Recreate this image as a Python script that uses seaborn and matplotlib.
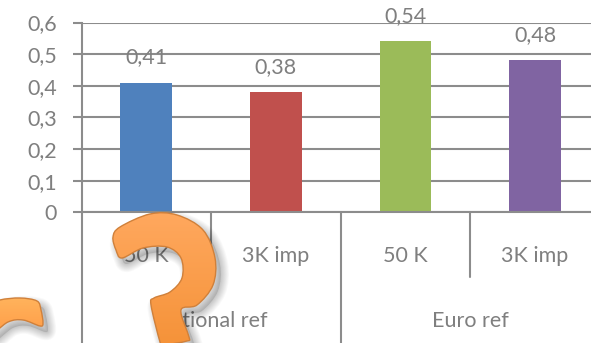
import numpy as np
import pandas as pd
import matplotlib
matplotlib.use("Agg")
import matplotlib.pyplot as plt
from matplotlib.path import Path
from matplotlib.patches import PathPatch
from matplotlib.transforms import Affine2D
import seaborn as sns

groups = ["National ref", "National ref", "Euro ref", "Euro ref"]
labels = ["50 K", "3K imp", "50 K", "3K imp"]
values = [0.41, 0.38, 0.54, 0.48]
value_labels = ["0,41", "0,38", "0,54", "0,48"]
colors = ["#4F81BD", "#C0504D", "#9BBB59", "#8064A2"]
yticks = [0, 0.1, 0.2, 0.3, 0.4, 0.5, 0.6]
ytick_labels = ["0", "0,1", "0,2", "0,3", "0,4", "0,5", "0,6"]
group_names = ["National ref", "Euro ref"]

W, H = 591, 343
TXT = "#7F7F7F"
LINE = "#8C8C8C"
FS = 15.5
CAT = 129.6
sns.set_theme(style="white")
plt.rcParams["font.family"] = ["Lato", "DejaVu Sans"]

fig = plt.figure(figsize=(W / 100, H / 100), dpi=100)
ax = fig.add_axes([81.5 / W, 1 - 212.3 / H, (W - 81.5) / W, (212.3 - 22.5) / H])
ids = [f"c{i}" for i in range(len(values))]
df = pd.DataFrame({"id": ids, "v": values})
sns.barplot(data=df, x="id", y="v", hue="id", palette=colors, saturation=1,
            width=0.4, legend=False, ax=ax, zorder=3, linewidth=0, edgecolor="none")
xmax = (W - 81.5) / CAT - 0.5
ax.set_xlim(-0.5, xmax)
ax.set_ylim(0, 0.6)
ax.set_xlabel("")
ax.set_ylabel("")
ax.set_yticks(yticks)
ax.set_yticklabels(ytick_labels, color=TXT, fontsize=FS)
ax.set_xticks([])
ax.tick_params(axis="y", length=6.5, width=1.5, color=LINE, pad=11, left=True)
ax.grid(axis="y", color=LINE, lw=1.5, zorder=1)
ax.set_axisbelow(True)
for s in ["top", "right", "bottom"]:
    ax.spines[s].set_visible(False)
ax.spines["left"].set_color(LINE)
ax.spines["left"].set_linewidth(1.5)

for i, (v, t) in enumerate(zip(values, value_labels)):
    ax.annotate(t, (i, v), xytext=(0, 18.2), textcoords="offset points",
                ha="center", va="center", color=TXT, fontsize=FS, zorder=2,
                annotation_clip=False)

# axis line and multi-level category dividers
tr = ax.get_xaxis_transform()
ax.plot([-0.5, xmax], [0, 0], color=LINE, lw=1.5, transform=tr, clip_on=False, zorder=4)
for x, low in [(-0.5, -0.70), (0.5, -0.341), (1.5, -0.70), (2.5, -0.341)]:
    ax.plot([x, x], [0, low], color=LINE, lw=1.5, transform=tr, clip_on=False)
for i, t in enumerate(labels):
    ax.text(i, -0.23, t, transform=tr, ha="center", va="center", color=TXT, fontsize=FS)
for c, t in zip([0.5, 2.5], group_names):
    ax.text(c, -0.572, t, transform=tr, ha="center", va="center", color=TXT, fontsize=FS)

# decorative clip-art question marks in a pixel overlay
ov = fig.add_axes([0, 0, 1, 1], zorder=5)
ov.set_xlim(0, W)
ov.set_ylim(H, 0)
ov.axis("off")
ov.patch.set_alpha(0)


def smooth(pts):
    pts = np.asarray(pts, float)
    n = len(pts)
    verts = [pts[0]]
    codes = [Path.MOVETO]
    for i in range(n):
        p0, p1, p2, p3 = pts[i - 1], pts[i], pts[(i + 1) % n], pts[(i + 2) % n]
        verts += [p1 + (p2 - p0) / 6, p2 - (p3 - p1) / 6, p2]
        codes += [Path.CURVE4] * 3
    return Path(np.array(verts), codes)


def mark(pts, top, bottom):
    path = smooth(pts)
    shifted = path.transformed(Affine2D().translate(5, 6))
    for k in range(9, 0, -1):
        ov.add_patch(PathPatch(shifted, fc="none", ec="black", lw=k * 1.3, alpha=0.022,
                               joinstyle="round", zorder=1))
    ov.add_patch(PathPatch(shifted, fc="black", ec="none", alpha=0.12, zorder=1))
    y0, y1 = path.vertices[:, 1].min(), path.vertices[:, 1].max()
    x0, x1 = path.vertices[:, 0].min(), path.vertices[:, 0].max()
    grad = np.linspace(0, 1, 64)[:, None, None]
    c0 = np.array(matplotlib.colors.to_rgb(top))[None, None, :]
    c1 = np.array(matplotlib.colors.to_rgb(bottom))[None, None, :]
    im = ov.imshow(c0 * (1 - grad) + c1 * grad, extent=[x0, x1, y1, y0], aspect="auto", zorder=2)
    clip = PathPatch(path, fc="none", ec="none", transform=ov.transData)
    ov.add_patch(clip)
    im.set_clip_path(clip)
    ov.add_patch(PathPatch(path, fc="none", ec="#D0803A", lw=1.0, joinstyle="round", zorder=3))
    ov.set_xlim(0, W)
    ov.set_ylim(H, 0)


q1 = [(113, 237), (120, 227), (150, 214), (177, 215), (203, 230), (215, 258),
      (213, 285), (197, 305), (181, 310), (189, 337), (187, 341), (163, 345),
      (160, 342), (151, 305), (154, 298), (170, 292), (182, 278), (181, 258),
      (167, 247), (143, 248), (122, 258), (116, 250)]
q2 = [(-12, 306), (0, 300), (20, 298), (37, 301), (41, 310), (43, 323),
      (40, 326), (23, 320), (8, 322), (-12, 335)]
mark(q1, "#FFA85E", "#F59238")
mark(q2, "#FFB35C", "#FF9A45")

fig.savefig("out.png", dpi=100)
